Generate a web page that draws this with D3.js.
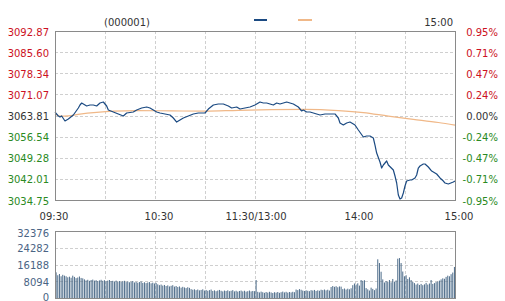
<!DOCTYPE html>
<html><head><meta charset="utf-8">
<script src="https://cdn.jsdelivr.net/npm/d3@7/dist/d3.min.js"></script>
<style>body{margin:0;background:#fff}svg{display:block}text{font-family:"DejaVu Sans",Verdana,sans-serif;font-size:10px}</style>
</head><body><svg id="c" width="505" height="301"></svg>
<script>
const title = "(000001)";
const prevClose = 3063.81;
const priceTicks = [3092.87,3085.60,3078.34,3071.07,3063.81,3056.54,3049.28,3042.01,3034.75];
const pctTicks = ["0.95%","0.71%","0.47%","0.24%","0.00%","-0.24%","-0.47%","-0.71%","-0.95%"];
const timeTicks = [0,60,120,180,240];
const timeLabels = ["09:30","10:30","11:30/13:00","14:00","15:00"];
const volTicks = [32376,24282,16188,8094,0];

const priceMinutes = [0,2,3,4,6,8,11,14,15,16,18,19,21,23,25,27,29,31,32,35,38,41,43,47,49,52,55,57,59,61,63,66,69,71,73,75,77,80,83,86,90,92,95,98,101,104,106,109,111,114,117,120,123,125,127,129,131,133,135,137,139,141,143,145,146,148,149,151,153,155,157,159,162,165,168,170,171,173,175,177,180,182,185,187,189,191,192,193,195,196,197,199,200,203,204,205,206,207,208,209,210,211,213,214,216,217,218,219,221,222,224,226,229,231,233,234,236,239,240];
const prices = [3065.01,3063.64,3063.29,3063.64,3061.92,3062.61,3063.98,3066.39,3067.42,3068.11,3067.42,3067.08,3067.42,3067.42,3067.08,3068.11,3068.45,3067.08,3065.70,3065.01,3064.33,3063.64,3064.67,3065.01,3065.70,3066.39,3066.73,3066.39,3065.70,3065.01,3064.67,3064.33,3063.98,3062.95,3061.57,3062.26,3062.95,3063.64,3064.33,3064.67,3064.67,3066.04,3067.42,3067.76,3067.76,3067.08,3066.39,3066.73,3066.04,3066.39,3066.73,3067.42,3068.45,3068.11,3068.11,3067.76,3067.42,3068.11,3067.76,3068.11,3068.45,3068.11,3067.76,3067.08,3066.73,3065.36,3065.70,3065.01,3065.01,3064.67,3064.33,3063.98,3064.33,3064.33,3064.33,3062.95,3061.23,3060.54,3061.23,3061.57,3060.54,3058.82,3056.42,3056.76,3056.76,3056.07,3053.66,3050.91,3047.82,3045.75,3046.79,3048.16,3046.79,3045.07,3043.00,3040.60,3036.47,3035.09,3035.44,3037.16,3039.56,3041.28,3041.63,3041.63,3042.32,3043.35,3045.75,3046.44,3047.13,3047.13,3046.10,3044.72,3043.69,3042.32,3041.28,3040.60,3040.25,3040.94,3041.28];

const avgMinutes = [0,3,8,15,25,35,50,70,90,110,130,150,170,185,200,215,230,240];
const avgPrices = [3064.3,3063.6,3063.7,3064.3,3064.9,3065.3,3065.5,3065.4,3065.3,3065.6,3065.8,3065.9,3065.5,3064.8,3063.6,3062.5,3061.4,3060.5];

const volumes = [
12400,11000,11600,10500,11200,10800,10500,10000,10300,9800,
10800,10200,9600,9900,10400,9700,9500,9000,8500,8800,
8300,8700,8900,8400,8600,8200,8500,8800,8300,8600,
8100,8400,8700,8200,8300,8000,8400,7900,8200,7800,
8100,8300,7700,8000,7600,7900,8200,7500,7800,7400,
7700,8000,7300,7600,7200,7500,7700,7100,7400,7000,
7300,6600,6200,6500,6000,6300,5800,6100,5600,5900,
6200,5500,5800,5300,5600,5000,5400,5100,4800,5200,
4900,4300,4000,4200,3800,4100,3700,3900,4200,3600,
3900,3500,3800,4100,3400,3700,3300,3600,3900,3500,
3200,3600,3400,3700,3300,3500,3800,3200,3500,3100,
3400,3600,3200,3500,3100,3300,3600,3200,3400,3300,
8700,3000,2700,3100,2800,2500,2900,2600,3000,2700,
2400,2800,2600,2900,2500,2800,3100,2700,3000,2600,
2900,2700,3000,2800,4100,3800,4300,4000,3600,3400,
3700,3500,3300,3800,3600,3900,3400,3700,3500,4000,
3800,4100,3700,4000,3600,5300,5800,5400,5700,5200,
5600,5500,4300,4600,4100,4500,4200,4700,6200,7000,
6500,7100,6000,8700,8300,8600,4800,4200,3600,5000,
4400,3800,4600,18700,16900,12700,9000,7500,8200,7800,
8700,7600,9200,7900,8500,19000,19300,16900,12800,10500,
11000,9200,10000,8700,7800,7200,6500,7000,6300,6800,
6200,6600,7300,6500,7000,8700,6800,7200,7700,8000,
8400,9000,9500,9300,10200,10800,10500,11500,12300,15000];

const svg = d3.select("#c");
const L = 55, R = 455, T = 31, B = 200, VT = 231, VB = 298;
const x = d3.scaleLinear().domain([0,240]).range([L,R]);
const y = d3.scaleLinear().domain([priceTicks[8], priceTicks[0]]).range([B,T]);
const yv = d3.scaleLinear().domain([0, volTicks[0]]).range([VB,VT]);
const red = "#cc1122", green = "#2a8a22", dark = "#333";
const grid = "#cfcfcf", frame = "#8a8a8a";
const gridTimes = d3.range(30,240,30);

// main grid
svg.append("g").selectAll("line").data(priceTicks.slice(1,-1)).join("line")
  .attr("x1",L).attr("x2",R).attr("y1",d=>Math.round(y(d))+0.5).attr("y2",d=>Math.round(y(d))+0.5)
  .attr("stroke",grid).attr("stroke-dasharray","3,2");
svg.append("g").selectAll("line").data(gridTimes).join("line")
  .attr("x1",d=>Math.round(x(d))+0.5).attr("x2",d=>Math.round(x(d))+0.5).attr("y1",T).attr("y2",B)
  .attr("stroke",grid).attr("stroke-dasharray","3,2");
// volume grid
svg.append("g").selectAll("line").data(volTicks.slice(1,-1)).join("line")
  .attr("x1",L).attr("x2",R).attr("y1",d=>Math.round(yv(d))+0.5).attr("y2",d=>Math.round(yv(d))+0.5)
  .attr("stroke",grid).attr("stroke-dasharray","3,2");
svg.append("g").selectAll("line").data(gridTimes).join("line")
  .attr("x1",d=>Math.round(x(d))+0.5).attr("x2",d=>Math.round(x(d))+0.5).attr("y1",VT).attr("y2",VB)
  .attr("stroke",grid).attr("stroke-dasharray","3,2");

// volume bars
svg.append("g").selectAll("rect").data(volumes).join("rect")
  .attr("x",(d,i)=>x(i)+0.6).attr("width",1)
  .attr("y",d=>yv(d)).attr("height",d=>VB-yv(d))
  .attr("fill","#4d6c8a");

// average line
svg.append("path").datum(avgMinutes.map((m,i)=>[m,avgPrices[i]]))
  .attr("d",d3.line().x(d=>x(d[0])).y(d=>y(d[1])).curve(d3.curveMonotoneX))
  .attr("fill","none").attr("stroke","#f0b888").attr("stroke-width",1.2);
// price line
svg.append("path").datum(priceMinutes.map((m,i)=>[m,prices[i]]))
  .attr("d",d3.line().x(d=>x(d[0])).y(d=>y(d[1])))
  .attr("fill","none").attr("stroke","#1b4a82").attr("stroke-width",1.2).attr("stroke-linejoin","round");

// frames
svg.append("rect").attr("x",L+0.5).attr("y",T+0.5).attr("width",R-L).attr("height",B-T)
  .attr("fill","none").attr("stroke",frame);
svg.append("rect").attr("x",L+0.5).attr("y",VT+0.5).attr("width",R-L).attr("height",VB-VT)
  .attr("fill","none").attr("stroke",frame);

// price labels
const col = v => v > prevClose + 0.001 ? red : (v < prevClose - 0.001 ? green : dark);
svg.append("g").selectAll("text").data(priceTicks).join("text")
  .attr("x",49).attr("y",d=>y(d)+1).attr("dy","0.35em").attr("text-anchor","end")
  .attr("fill",col).text(d=>d.toFixed(2));
svg.append("g").selectAll("text").data(pctTicks).join("text")
  .attr("x",498).attr("y",(d,i)=>y(priceTicks[i])+1).attr("dy","0.35em").attr("text-anchor","end")
  .attr("fill",(d,i)=>col(priceTicks[i])).text(d=>d);
// time labels
svg.append("g").selectAll("text").data(timeTicks).join("text")
  .attr("x",(d,i)=>x(d)+(i===0?-1:(i===2?1:4))).attr("y",216).attr("dy","0.35em").attr("text-anchor","middle")
  .attr("fill",dark).text((d,i)=>timeLabels[i]);
// volume labels
svg.append("g").selectAll("text").data(volTicks).join("text")
  .attr("x",49).attr("y",(d,i)=>yv(d)+(i===0?2:(i===4?-1:1))).attr("dy","0.35em").attr("text-anchor","end")
  .attr("fill","#4a6484").text(d=>d);

// header
svg.append("text").attr("x",127).attr("y",22).attr("dy","0.35em").attr("text-anchor","middle").attr("fill",dark).text(title);
svg.append("text").attr("x",453).attr("y",22).attr("dy","0.35em").attr("text-anchor","end").attr("fill",dark).text(timeLabels[4]);
svg.append("line").attr("x1",254).attr("x2",267).attr("y1",20).attr("y2",20).attr("stroke","#1b4a82").attr("stroke-width",2);
svg.append("line").attr("x1",298).attr("x2",312).attr("y1",20).attr("y2",20).attr("stroke","#f0b888").attr("stroke-width",2);
</script></body></html>
